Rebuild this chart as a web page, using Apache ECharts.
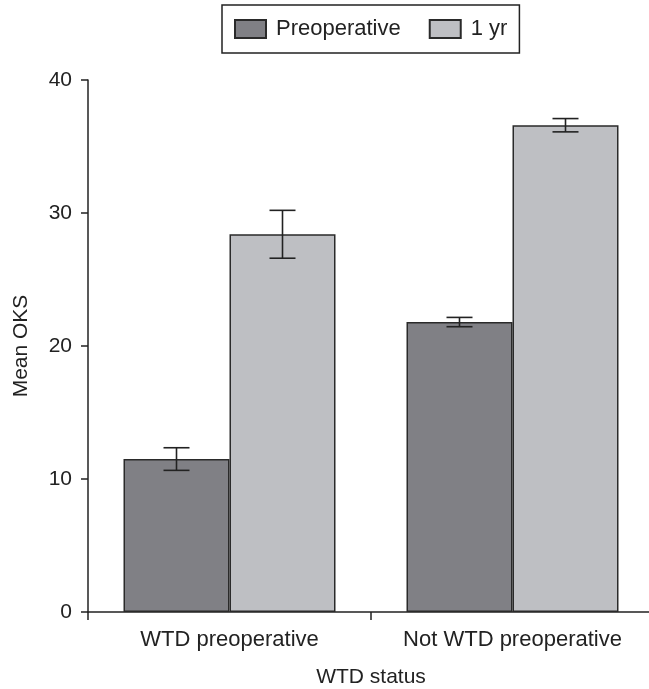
<!DOCTYPE html>
<html>
<head>
<meta charset="utf-8">
<script src="https://cdn.jsdelivr.net/npm/echarts@6/dist/echarts.min.js"></script>
<style>html,body{margin:0;padding:0;background:#fff}#c{width:649px;height:689px}</style>
</head>
<body>
<div id="c"></div>
<script>
var categories = ['WTD preoperative', 'Not WTD preoperative'];
var seriesNames = ['Preoperative', '1 yr'];
var preopMean = [11.5, 21.8];
var preopErr = [0.85, 0.35];
var yr1Mean = [28.4, 36.6];
var yr1Err = [1.8, 0.5];
var yTicks = [0, 10, 20, 30, 40];

var FONT = 'Liberation Sans, Arial, Helvetica, sans-serif';
var BAR_W = 106;
var colors = ['#808085', '#bebfc3'];

function errData(means, errs) {
  return means.map(function (m, i) { return [i, m - errs[i], m + errs[i]]; });
}
function errSeries(means, errs, offset) {
  return {
    type: 'custom',
    data: errData(means, errs),
    encode: { x: 0, y: [1, 2] },
    z: 5,
    silent: true,
    renderItem: function (params, api) {
      var lo = api.coord([api.value(0), api.value(1)]);
      var hi = api.coord([api.value(0), api.value(2)]);
      var x = lo[0] + offset;
      var cap = 13;
      var st = { stroke: '#222', lineWidth: 1.6 };
      return {
        type: 'group',
        children: [
          { type: 'line', shape: { x1: x, y1: lo[1], x2: x, y2: hi[1] }, style: st },
          { type: 'line', shape: { x1: x - cap, y1: lo[1], x2: x + cap, y2: lo[1] }, style: st },
          { type: 'line', shape: { x1: x - cap, y1: hi[1], x2: x + cap, y2: hi[1] }, style: st }
        ]
      };
    }
  };
}

var chart = echarts.init(document.getElementById('c'));
chart.setOption({
  backgroundColor: '#fff',
  animation: false,
  textStyle: { fontFamily: FONT },
  legend: {
    data: seriesNames,
    icon: 'rect',
    left: 222,
    top: 5,
    padding: [13, 12, 13, 12],
    itemWidth: 31,
    itemHeight: 18,
    itemGap: 28,
    borderColor: '#222',
    borderWidth: 1.5,
    textStyle: { fontSize: 22, color: '#222', fontFamily: FONT, padding: [0, 0, 0, 5] }
  },
  grid: { left: 88, top: 80, width: 566, height: 532, containLabel: false, outerBoundsMode: 'none' },
  xAxis: {
    type: 'category',
    data: categories,
    name: 'WTD status',
    nameLocation: 'middle',
    nameGap: 55,
    nameTextStyle: { fontSize: 21, color: '#222', fontFamily: FONT },
    axisLine: { lineStyle: { color: '#222', width: 1.5 } },
    axisTick: { show: true, interval: 0, length: 8, lineStyle: { color: '#222', width: 1.5 } },
    axisLabel: { interval: 0, fontSize: 22, color: '#222', margin: 17, fontFamily: FONT }
  },
  yAxis: {
    type: 'value',
    min: 0,
    max: 40,
    interval: 10,
    name: 'Mean OKS',
    nameLocation: 'middle',
    nameGap: 56,
    nameRotate: 90,
    nameTextStyle: { fontSize: 21, color: '#222', fontFamily: FONT },
    splitLine: { show: false },
    axisLine: { show: true, lineStyle: { color: '#222', width: 1.5 } },
    axisTick: { show: true, length: 7, lineStyle: { color: '#222', width: 1.5 } },
    axisLabel: { fontSize: 21, color: '#222', margin: 16, fontFamily: FONT,
      formatter: function (v) { return yTicks.indexOf(v) >= 0 ? String(v) : ''; } }
  },
  series: [
    { name: seriesNames[0], type: 'bar', data: preopMean, barWidth: BAR_W, barGap: '0%',
      itemStyle: { color: colors[0], borderColor: '#2a2a2a', borderWidth: 1.5 } },
    { name: seriesNames[1], type: 'bar', data: yr1Mean, barWidth: BAR_W, barGap: '0%',
      itemStyle: { color: colors[1], borderColor: '#2a2a2a', borderWidth: 1.5 } },
    errSeries(preopMean, preopErr, -BAR_W / 2),
    errSeries(yr1Mean, yr1Err, BAR_W / 2)
  ]
});
</script>
</body>
</html>
